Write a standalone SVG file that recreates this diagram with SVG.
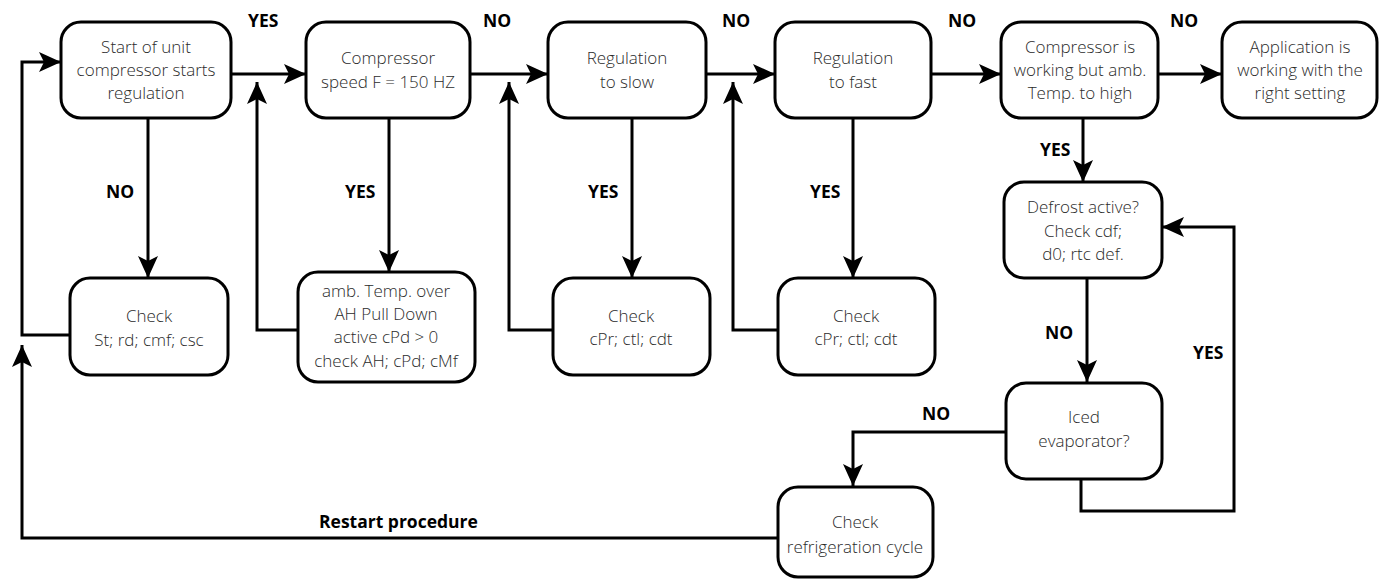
<svg xmlns="http://www.w3.org/2000/svg" width="1386" height="581" viewBox="0 0 1386 581">
<style>
.box{fill:#fff;stroke:#000;stroke-width:3}
.t{font-family:"Open Sans","Liberation Sans",sans-serif;font-size:17px;font-weight:300;fill:#2b2b2b;text-anchor:middle}
.l{font-family:"Open Sans","Liberation Sans",sans-serif;font-size:17.5px;font-weight:700;fill:#000}
.c{fill:none;stroke:#000;stroke-width:3}
</style>
<defs>
<marker id="ah" markerUnits="userSpaceOnUse" markerWidth="22" markerHeight="20" viewBox="0 0 22 20" refX="22" refY="10" orient="auto">
<path d="M0,0 L22,10 L0,20 L5,10 Z" fill="#000"/>
</marker>
</defs>
<rect width="1386" height="581" fill="#fff"/>
<g id="connectors">
<path class="c" d="M231,74 H306" marker-end="url(#ah)"/>
<path class="c" d="M470,74 H548" marker-end="url(#ah)"/>
<path class="c" d="M706,74 H775" marker-end="url(#ah)"/>
<path class="c" d="M931,74 H1001" marker-end="url(#ah)"/>
<path class="c" d="M1158,74 H1222" marker-end="url(#ah)"/>
<path class="c" d="M148,118 V278" marker-end="url(#ah)"/>
<path class="c" d="M389,118 V272" marker-end="url(#ah)"/>
<path class="c" d="M632,118 V278" marker-end="url(#ah)"/>
<path class="c" d="M853,118 V278" marker-end="url(#ah)"/>
<path class="c" d="M1083,118 V182" marker-end="url(#ah)"/>
<path class="c" d="M70,335 H22 V62 H61" marker-end="url(#ah)"/>
<path class="c" d="M298,330 H257 V82" marker-end="url(#ah)"/>
<path class="c" d="M553,330 H509 V82" marker-end="url(#ah)"/>
<path class="c" d="M778,330 H733 V82" marker-end="url(#ah)"/>
<path class="c" d="M1087,278 V382" marker-end="url(#ah)"/>
<path class="c" d="M1006,432 H853 V486" marker-end="url(#ah)"/>
<path class="c" d="M1081,479 V511 H1234 V227 H1162" marker-end="url(#ah)"/>
<path class="c" d="M778,538 H22 V345" marker-end="url(#ah)"/>
</g>
<g id="labels">
<text class="l" x="248" y="27">YES</text>
<text class="l" x="483" y="27">NO</text>
<text class="l" x="722" y="27">NO</text>
<text class="l" x="948" y="27">NO</text>
<text class="l" x="1170" y="27">NO</text>
<text class="l" x="106" y="198">NO</text>
<text class="l" x="345" y="198">YES</text>
<text class="l" x="588" y="198">YES</text>
<text class="l" x="810" y="198">YES</text>
<text class="l" x="1040" y="156">YES</text>
<text class="l" x="1045" y="339">NO</text>
<text class="l" x="1193" y="359">YES</text>
<text class="l" x="922" y="420">NO</text>
<text class="l" x="319" y="528">Restart procedure</text>
</g>
<g id="n1"><rect class="box" x="61" y="22" width="170" height="96" rx="20"/>
<text class="t" x="146" y="53">Start of unit</text><text class="t" x="146" y="76">compressor starts</text><text class="t" x="146" y="99">regulation</text></g>
<g id="n2"><rect class="box" x="306" y="22" width="164" height="96" rx="20"/>
<text class="t" x="388" y="64">Compressor</text><text class="t" x="388" y="88">speed F = 150 HZ</text></g>
<g id="n3"><rect class="box" x="548" y="22" width="158" height="96" rx="20"/>
<text class="t" x="627" y="64">Regulation</text><text class="t" x="627" y="88">to slow</text></g>
<g id="n4"><rect class="box" x="775" y="22" width="156" height="96" rx="20"/>
<text class="t" x="853" y="64">Regulation</text><text class="t" x="853" y="88">to fast</text></g>
<g id="n5"><rect class="box" x="1001" y="22" width="157" height="96" rx="20"/>
<text class="t" x="1080" y="53">Compressor is</text><text class="t" x="1080" y="76">working but amb.</text><text class="t" x="1080" y="99">Temp. to high</text></g>
<g id="n6"><rect class="box" x="1222" y="22" width="155" height="96" rx="20"/>
<text class="t" x="1300" y="53">Application is</text><text class="t" x="1300" y="76">working with the</text><text class="t" x="1300" y="99">right setting</text></g>
<g id="n7"><rect class="box" x="70" y="278" width="158" height="97" rx="20"/>
<text class="t" x="149" y="322">Check</text><text class="t" x="149" y="346">St; rd; cmf; csc</text></g>
<g id="n8"><rect class="box" x="298" y="272" width="177" height="110" rx="20"/>
<text class="t" x="386" y="297">amb. Temp. over</text><text class="t" x="386" y="320">AH Pull Down</text><text class="t" x="386" y="343">active cPd &gt; 0</text><text class="t" x="386" y="367">check AH; cPd; cMf</text></g>
<g id="n9"><rect class="box" x="553" y="278" width="157" height="97" rx="20"/>
<text class="t" x="631" y="322">Check</text><text class="t" x="631" y="345">cPr; ctl; cdt</text></g>
<g id="n10"><rect class="box" x="778" y="278" width="157" height="97" rx="20"/>
<text class="t" x="856" y="322">Check</text><text class="t" x="856" y="345">cPr; ctl; cdt</text></g>
<g id="n11"><rect class="box" x="1004" y="182" width="158" height="96" rx="20"/>
<text class="t" x="1083" y="213">Defrost active?</text><text class="t" x="1083" y="237">Check cdf;</text><text class="t" x="1083" y="260">d0; rtc def.</text></g>
<g id="n12"><rect class="box" x="1006" y="383" width="156" height="96" rx="20"/>
<text class="t" x="1084" y="423">Iced</text><text class="t" x="1084" y="447">evaporator?</text></g>
<g id="n13"><rect class="box" x="778" y="487" width="155" height="90" rx="20"/>
<text class="t" x="855" y="528">Check</text><text class="t" x="855" y="553">refrigeration cycle</text></g>
</svg>
